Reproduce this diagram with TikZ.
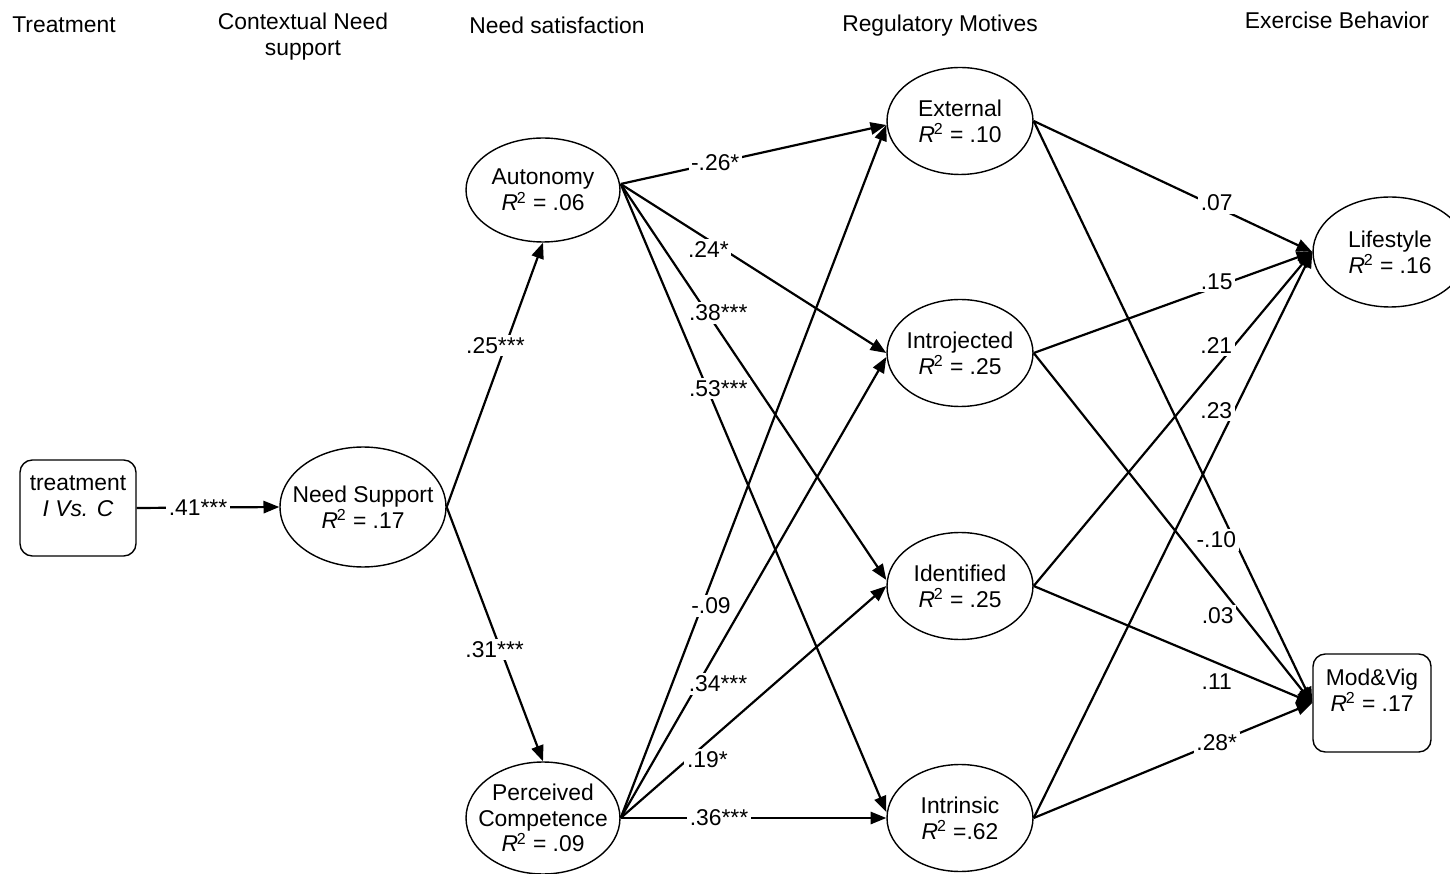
\documentclass[tikz,border=0pt]{standalone}
\usepackage{fontspec}
\setmainfont{Liberation Sans}
\usetikzlibrary{shapes.geometric,arrows.meta,calc}
\newcommand\Rsq{\textit{R}\kern-0.6pt\textsuperscript{2}}
\begin{document}
\begin{tikzpicture}[x=0.02cm,y=-0.02cm,
  every node/.style={font=\fontsize{13}{14.7}\selectfont},
  ell/.style={draw,ellipse,line width=0.8pt,inner sep=0pt},
  bx/.style={draw,rounded corners=7pt,line width=0.8pt,inner sep=0pt},
  txt/.style={align=center,inner sep=0pt},
  intext/.style={label={[txt]center:#1}},
  conn/.style={line width=1.25pt,-{Triangle[length=9pt,width=7pt]}},
  lab/.style={fill=white,inner sep=1.5pt},
]
\useasboundingbox (0,0) rectangle (1450,874);
% headers
\node[txt] (h1) at (64,25) {Treatment};
\node[txt] (h2) at (303,37) {Contextual Need\\support};
\node[txt] (h3) at (557,25) {Need satisfaction};
\node[txt] (h4) at (940,26) {Regulatory Motives};
\node[txt] (h5) at (1337,20) {Exercise Behavior};
% nodes
\node[bx,minimum width=2.32cm,minimum height=1.92cm] (treat) at (78,508) {};
\node[txt] (treattxt) at (78,496) {treatment\\\textit{I Vs. C}};
\node[ell,minimum width=3.32cm,minimum height=2.4cm,intext={Need Support\\\Rsq{} = .17}] (ns) at (363,507) {};
\node[ell,minimum width=3.08cm,minimum height=2.08cm,intext={Autonomy\\\Rsq{} = .06}] (aut) at (543,190) {};
\node[ell,minimum width=3.08cm,minimum height=2.24cm,intext={Perceived\\Competence\\\Rsq{} = .09}] (pc) at (543,818) {};
\node[ell,minimum width=2.92cm,minimum height=2.14cm,intext={External\\\Rsq{} = .10}] (ext) at (960,121) {};
\node[ell,minimum width=2.92cm,minimum height=2.14cm,intext={Introjected\\\Rsq{} = .25}] (intro) at (960,353) {};
\node[ell,minimum width=2.92cm,minimum height=2.14cm,intext={Identified\\\Rsq{} = .25}] (iden) at (960,586) {};
\node[ell,minimum width=2.92cm,minimum height=2.14cm,intext={Intrinsic\\\Rsq{} =.62}] (intr) at (960,818) {};
\node[ell,minimum width=3.08cm,minimum height=2.2cm,intext={Lifestyle\\\Rsq{} = .16}] (life) at (1390,252) {};
\node[bx,minimum width=2.36cm,minimum height=1.96cm] (mv) at (1372,703) {};
\node[txt] (mvtxt) at (1372,690) {Mod\&Vig\\\Rsq{} = .17};
% coordinates
\coordinate (as) at ($(aut.east)+(0,-6)$);
\coordinate (extin) at ($(ext.west)+(0,4)$);
\coordinate (pint) at ($(intro.west)+(0,4)$);
\coordinate (aidn) at ($(iden.west)+(0,-6)$);
\coordinate (aitr) at ($(intr.west)+(0,-6)$);
% connectors
\draw[conn] (treat.east) -- node[lab,pos=0.43]{.41***} (ns.west);
\draw[conn] (ns.east) -- node[lab,pos=0.61,xshift=-0.2cm]{.25***} (aut.south);
\draw[conn] (ns.east) -- node[lab,pos=0.56,xshift=-0.12cm]{.31***} (pc.north);
\draw[conn] (as) -- node[lab,pos=0.356]{-.26*} (extin);
\draw[conn] (as) -- node[lab,pos=0.33,yshift=-0.2cm]{.24*} (intro.west);
\draw[conn] (as) -- node[lab,pos=0.326,xshift=0.22cm]{.38***} (aidn);
\draw[conn] (as) -- node[lab,pos=0.326,xshift=0.22cm]{.53***} (aitr);
\draw[conn] (pc.east) -- node[lab,pos=0.306,xshift=0.18cm]{-.09} (extin);
\draw[conn] (pc.east) -- node[lab,pos=0.291,xshift=0.4cm]{.34***} (pint);
\draw[conn] (pc.east) -- node[lab,pos=0.251,xshift=0.4cm]{.19*} (iden.west);
\draw[conn] (pc.east) -- node[lab,pos=0.37]{.36***} (intr.west);
\draw[conn] (ext.east) -- node[lab,pos=0.657,yshift=0.08cm]{.07} (life.west);
\draw[conn] (ext.east) -- node[lab,pos=0.72,xshift=-0.36cm]{-.10} (mv.west);
\draw[conn] (intro.east) -- node[lab,pos=0.657,yshift=0.1cm]{.15} (life.west);
\draw[conn] (intro.east) -- node[lab,pos=0.75,xshift=-0.5cm]{.03} (mv.west);
\draw[conn] (iden.east) -- node[lab,pos=0.72,xshift=-0.36cm]{.21} (life.west);
\draw[conn] (iden.east) -- node[lab,pos=0.657,yshift=-0.38cm]{.11} (mv.west);
\draw[conn] (intr.east) -- node[lab,pos=0.72,xshift=-0.36cm]{.23} (life.west);
\draw[conn] (intr.east) -- node[lab,pos=0.657]{.28*} (mv.west);
\end{tikzpicture}
\end{document}
